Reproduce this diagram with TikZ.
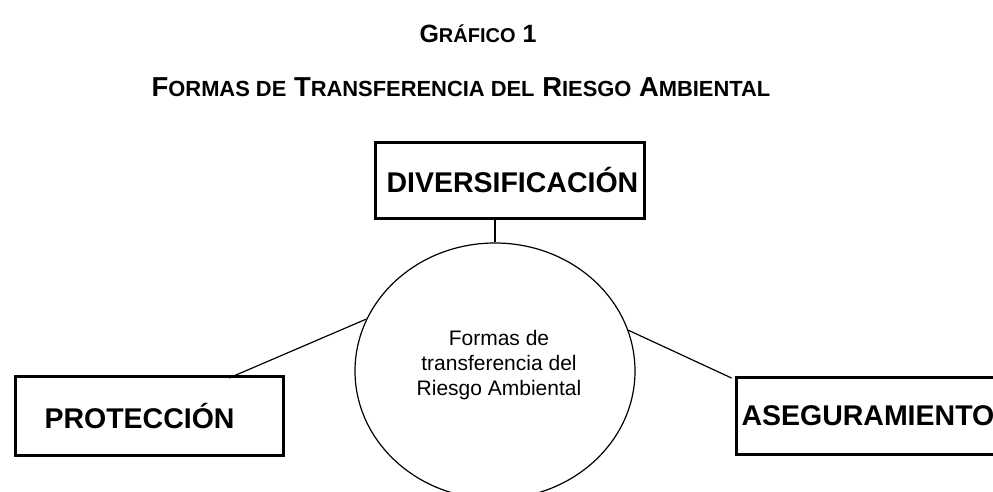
\documentclass[tikz,border=0pt]{standalone}
\usepackage{fontspec}
\setmainfont{Liberation Sans}
\usetikzlibrary{shapes.geometric}
\usetikzlibrary{calc}

% fake small caps of the headings
\newcommand{\scTitle}[1]{{\fontsize{20}{24}\selectfont #1}}
\newcommand{\scSub}[1]{{\fontsize{21.9}{26}\selectfont #1}}

\tikzset{
  bigbox/.style={draw, line width=3pt, rectangle, anchor=west, inner xsep=0pt, inner ysep=0pt,
    align=left, font=\bfseries\fontsize{28.5}{32}\selectfont},
  link/.style={draw, line width=1.2pt}
}

\begin{document}
\begin{tikzpicture}[x=1pt, y=-1pt]
\useasboundingbox[fill=white] (0,0) rectangle (993,492);
% headings
\node[anchor=base, inner sep=0] (title) at (478,43)
  {\bfseries\fontsize{25}{30}\selectfont G\scTitle{RÁFICO} 1};
\node[anchor=base, inner sep=0] (subtitle) at (461,97)
  {\bfseries\fontsize{27.4}{32}\selectfont F\scSub{ORMAS DE} T\scSub{RANSFERENCIA DEL} R\scSub{IESGO} A\scSub{MBIENTAL}};
% boxes
\node[bigbox, text width=269pt, minimum height=76pt] (divers) at (373.5,180.5)
  {\hspace*{11.5pt}\mbox{DIVERSIFICACIÓN}};
\node[bigbox, text width=268pt, minimum height=79pt] (protec) at (13.5,416)
  {\hspace*{29.5pt}\mbox{PROTECCIÓN}};
\node[bigbox, text width=300pt, minimum height=77pt] (asegur) at (734.5,416)
  {\hspace*{5.5pt}\mbox{ASEGURAMIENTO}};
% centre
\node[ellipse, draw, line width=1.2pt, minimum width=280pt, minimum height=256pt, inner sep=0] (hub) at (495,371) {};
\node[align=center, inner sep=0, font=\fontsize{21}{25}\selectfont] (hubtext) at ($(hub.center)+(4,-6)$)
  {Formas de\\transferencia del\\Riesgo Ambiental};
% connectors
\draw[link] (hub.north) -- (divers.south -| hub.north);
\draw[link] (hub.158) -- ([xshift=80pt, yshift=-3pt]protec.north);
\draw[link] (hub.17) -- ([xshift=-3pt, yshift=-2pt]asegur.north west);
\end{tikzpicture}
\end{document}
